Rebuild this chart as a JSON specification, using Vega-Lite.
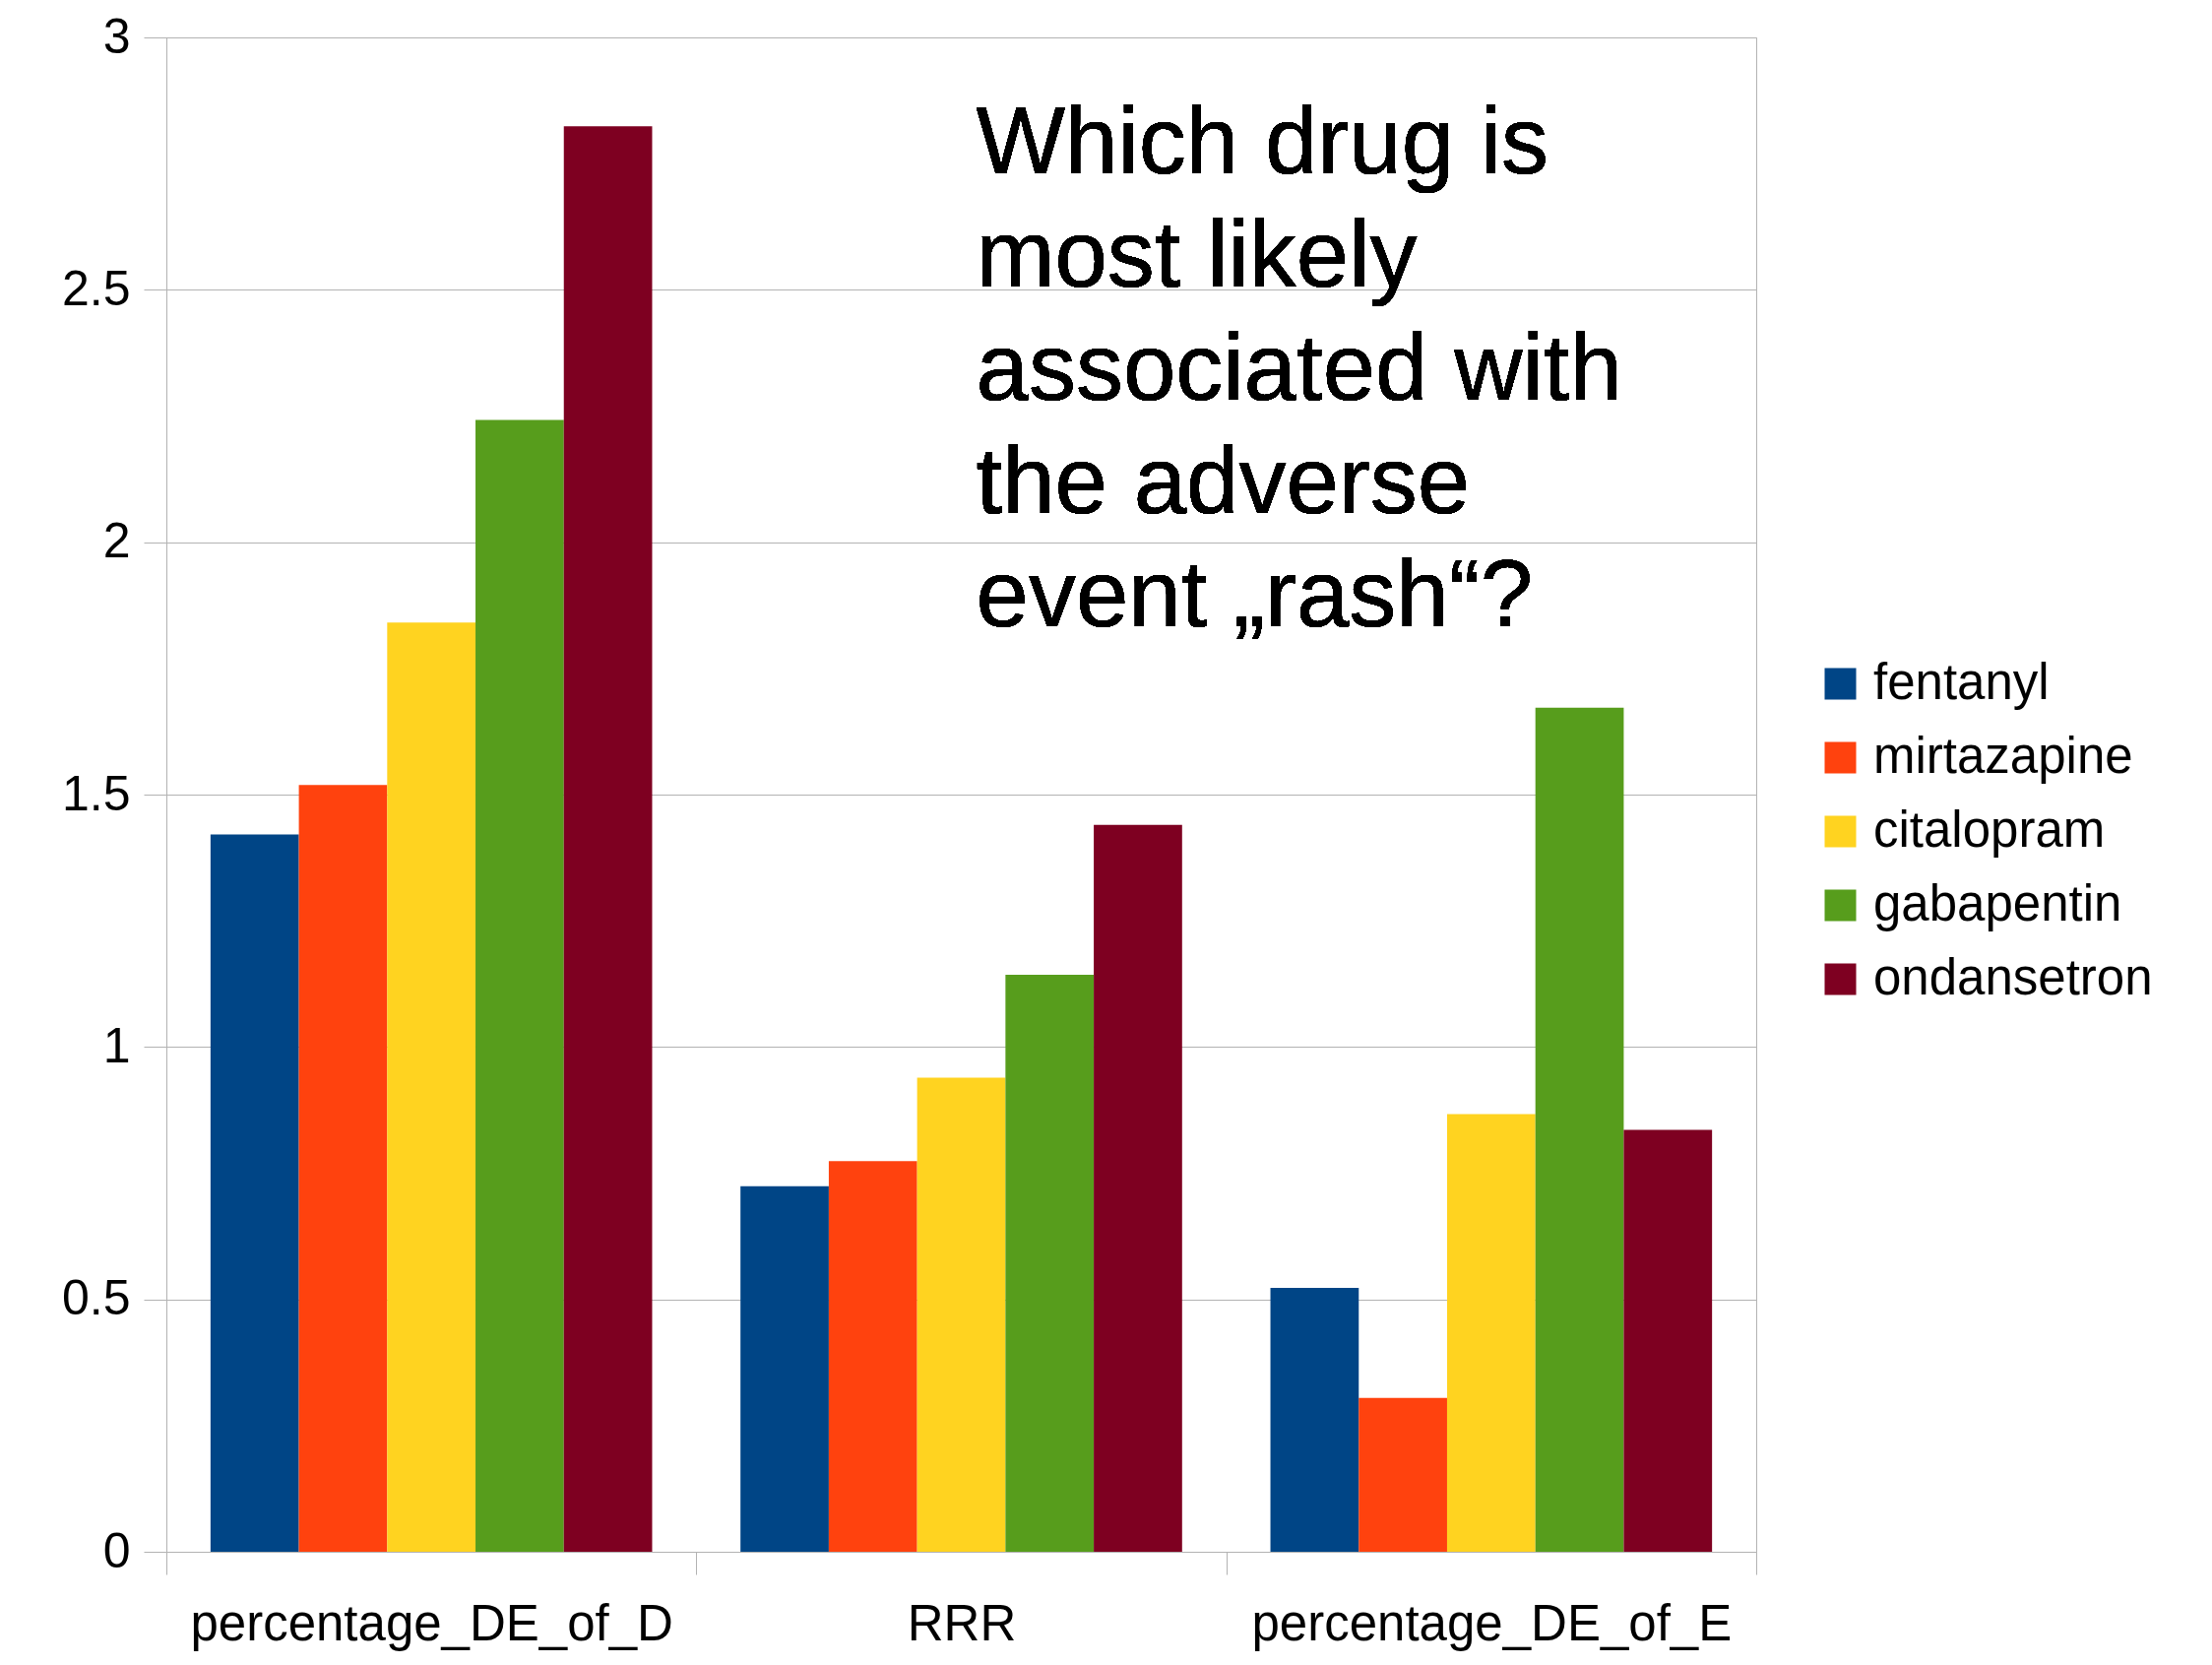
{
  "$schema": "https://vega.github.io/schema/vega-lite/v6.json",
  "autosize": {"type": "none"},
  "padding": {"left": 169, "top": 38, "right": 463, "bottom": 115},
  "width": 1615,
  "height": 1538,
  "background": "white",
  "config": {
    "font": "Liberation Sans",
    "view": {"stroke": "#b3b3b3", "strokeWidth": 1},
    "axis": {"labelFont": "Liberation Sans", "labelColor": "black", "labelFontSize": 50, "titleFontSize": 50}
  },
  "data": {
    "values": [
      {"measure": "percentage_DE_of_D", "drug": "fentanyl", "value": 1.421},
      {"measure": "percentage_DE_of_D", "drug": "mirtazapine", "value": 1.519},
      {"measure": "percentage_DE_of_D", "drug": "citalopram", "value": 1.841},
      {"measure": "percentage_DE_of_D", "drug": "gabapentin", "value": 2.242},
      {"measure": "percentage_DE_of_D", "drug": "ondansetron", "value": 2.824},
      {"measure": "RRR", "drug": "fentanyl", "value": 0.724},
      {"measure": "RRR", "drug": "mirtazapine", "value": 0.774},
      {"measure": "RRR", "drug": "citalopram", "value": 0.939},
      {"measure": "RRR", "drug": "gabapentin", "value": 1.143},
      {"measure": "RRR", "drug": "ondansetron", "value": 1.440},
      {"measure": "percentage_DE_of_E", "drug": "fentanyl", "value": 0.523},
      {"measure": "percentage_DE_of_E", "drug": "mirtazapine", "value": 0.305},
      {"measure": "percentage_DE_of_E", "drug": "citalopram", "value": 0.867},
      {"measure": "percentage_DE_of_E", "drug": "gabapentin", "value": 1.672},
      {"measure": "percentage_DE_of_E", "drug": "ondansetron", "value": 0.836}
    ]
  },
  "layer": [
    {
      "mark": {"type": "bar"},
      "encoding": {
        "x": {
          "field": "measure", "type": "nominal",
          "sort": ["percentage_DE_of_D", "RRR", "percentage_DE_of_E"],
          "scale": {"paddingInner": 0, "paddingOuter": 0},
          "axis": {
            "title": null, "labelAngle": 0, "domain": false, "grid": false, "labelLimit": 0,
            "ticks": true, "tickBand": "extent", "tickSize": 23, "tickColor": "#b3b3b3", "tickWidth": 1,
            "labelBaseline": "alphabetic", "labelPadding": 66, "labelFontSize": 51
          }
        },
        "xOffset": {
          "field": "drug", "type": "nominal",
          "sort": ["fentanyl", "mirtazapine", "citalopram", "gabapentin", "ondansetron"],
          "scale": {"paddingInner": 0, "paddingOuter": 0.5}
        },
        "y": {
          "field": "value", "type": "quantitative",
          "scale": {"domain": [0, 3], "nice": false},
          "axis": {
            "title": null, "values": [0, 0.5, 1, 1.5, 2, 2.5, 3], "format": "~g",
            "grid": true, "gridColor": "#b3b3b3", "gridWidth": 1,
            "domain": true, "domainColor": "#b3b3b3", "domainWidth": 1,
            "tickSize": 23, "tickColor": "#b3b3b3", "tickWidth": 1,
            "labelPadding": 14, "labelFontSize": 50
          }
        },
        "color": {
          "field": "drug", "type": "nominal",
          "sort": ["fentanyl", "mirtazapine", "citalopram", "gabapentin", "ondansetron"],
          "scale": {
            "domain": ["fentanyl", "mirtazapine", "citalopram", "gabapentin", "ondansetron"],
            "range": ["#004586", "#ff420e", "#ffd320", "#579d1c", "#7e0021"]
          },
          "legend": {
            "title": null, "orient": "none", "legendX": 1675, "legendY": 631,
            "symbolType": "square", "symbolSize": 1024, "symbolStrokeWidth": 0, "symbolOpacity": 1,
            "labelFontSize": 51, "labelFont": "Liberation Sans", "labelColor": "black", "labelLimit": 0,
            "labelOffset": 8, "rowPadding": 23, "padding": 0
          }
        }
      }
    },
    {
      "mark": {
        "type": "text",
        "text": ["Which drug is", "most likely", "associated with", "the adverse", "event „rash“?"],
        "align": "left", "baseline": "alphabetic",
        "fontSize": 96, "lineHeight": 115, "font": "Liberation Sans", "color": "black", "dx": 15
      },
      "encoding": {
        "x": {"datum": "RRR"},
        "y": {"datum": 2.73}
      }
    }
  ]
}
